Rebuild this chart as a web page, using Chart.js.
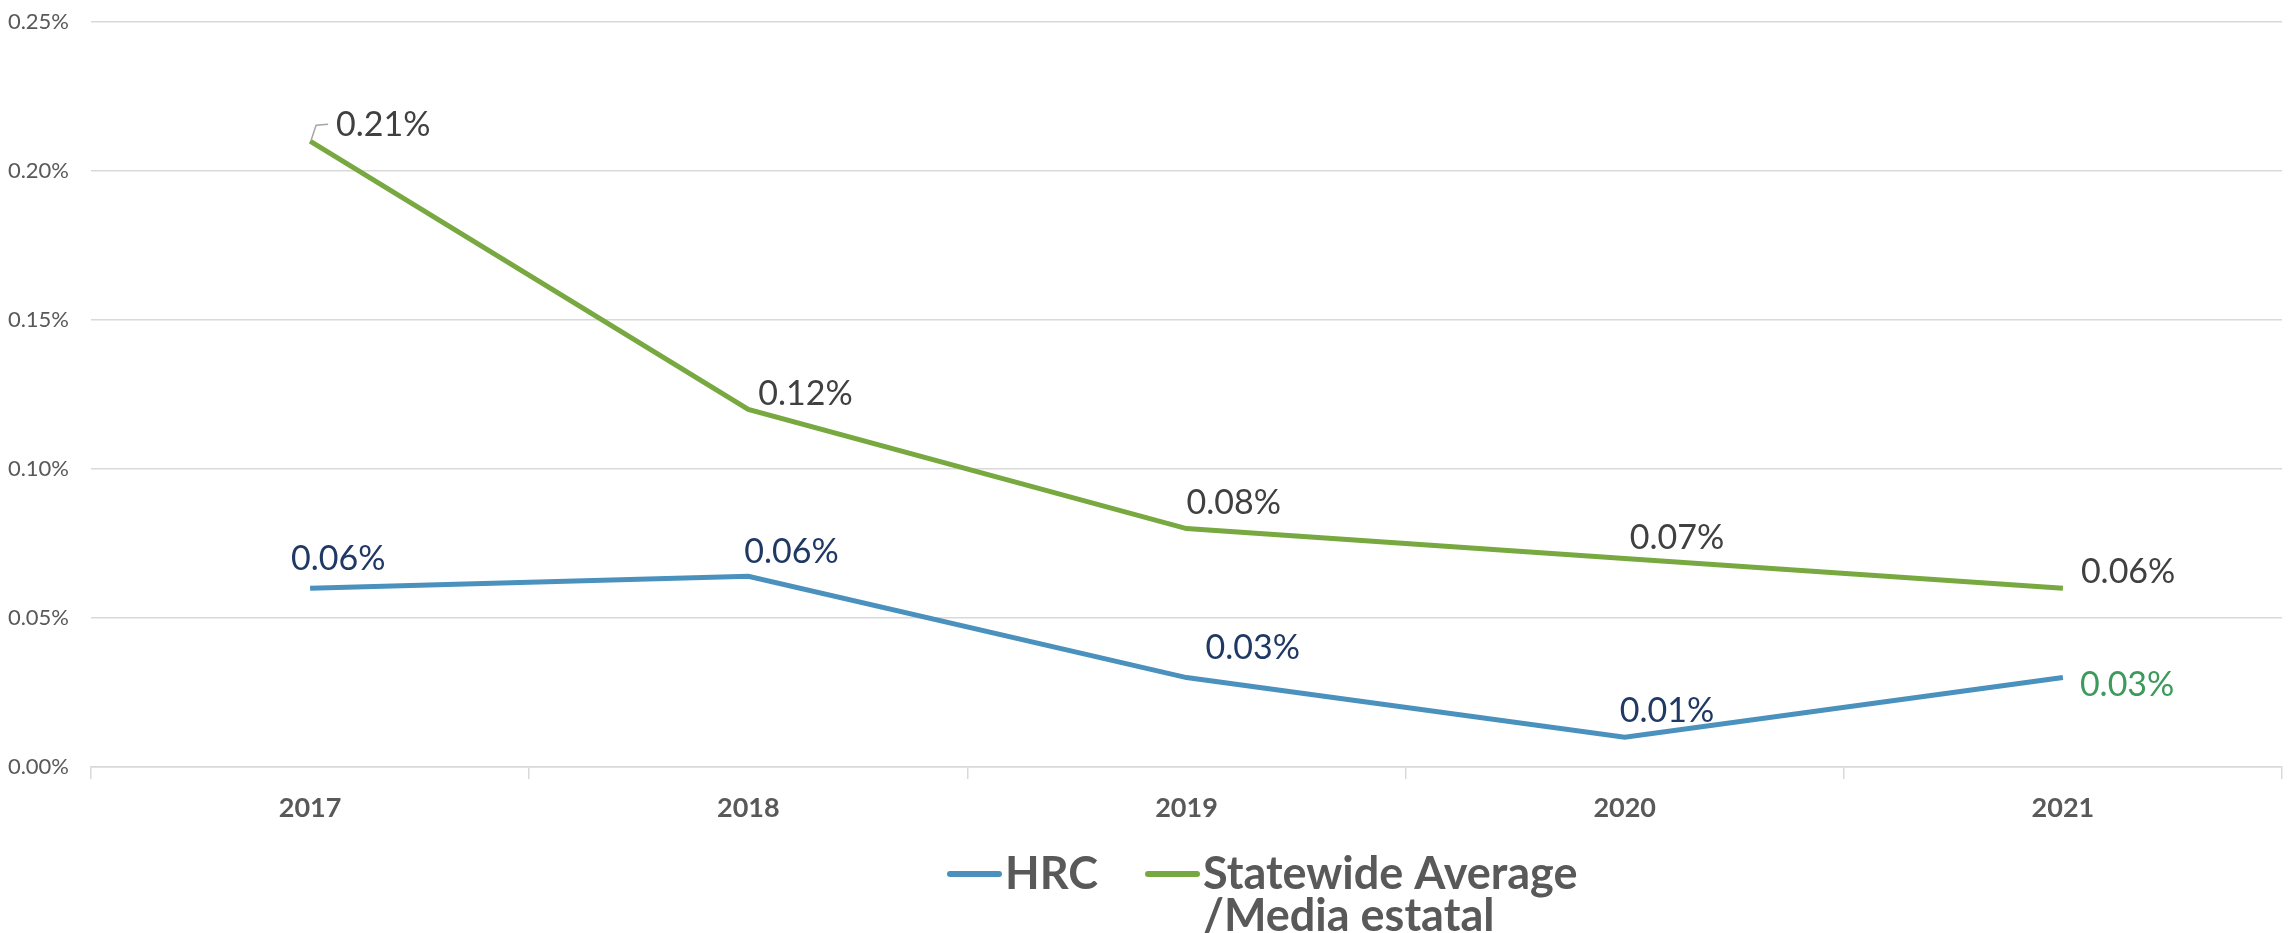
<!DOCTYPE html>
<html>
<head>
<meta charset="utf-8">
<script src="https://cdn.jsdelivr.net/npm/chart.js@4.4.1/dist/chart.umd.min.js"></script>
<style>
  html, body { margin: 0; padding: 0; background: #fff; }
  #wrap { width: 2295px; height: 933px; }
</style>
</head>
<body>
<div id="wrap"><canvas id="chart" width="2295" height="933"></canvas></div>
<script>
"use strict";

// data
const years = ["2017", "2018", "2019", "2020", "2021"];
const hrcValues = [0.060, 0.064, 0.030, 0.010, 0.030];
const stateValues = [0.210, 0.120, 0.080, 0.070, 0.060];
const hrcLabels = ["0.06%", "0.06%", "0.03%", "0.01%", "0.03%"];
const stateLabels = ["0.21%", "0.12%", "0.08%", "0.07%", "0.06%"];
const yTicks = [0, 0.05, 0.10, 0.15, 0.20, 0.25];

const FONT = "Lato, 'Open Sans', sans-serif";
const blue = "#4A91BD";
const green = "#78A840";

// where each value label sits relative to its point (left edge, vertical middle)
const labelOffsets = {
  0: [[-19, -29], [-4, -24], [19, -30], [-5, -26], [17, 7]],
  1: [[26, -16], [10, -15], [0, -26], [5, -20], [18, -16]]
};
const labelColors = {
  0: ["#1F3864", "#1F3864", "#1F3864", "#1F3864", "#3D9A5C"],
  1: ["#404040", "#404040", "#404040", "#404040", "#404040"]
};

const valueLabels = {
  id: "valueLabels",
  afterDatasetsDraw(chart) {
    const ctx = chart.ctx;
    ctx.save();
    ctx.font = "34px " + FONT;
    ctx.textAlign = "left";
    ctx.textBaseline = "middle";
    chart.data.datasets.forEach((ds, i) => {
      const meta = chart.getDatasetMeta(i);
      meta.data.forEach((pt, j) => {
        const off = labelOffsets[i][j];
        ctx.fillStyle = labelColors[i][j];
        ctx.fillText(ds.valueText[j], pt.x + off[0], pt.y + off[1]);
      });
    });
    // leader line for the first statewide label
    const p = chart.getDatasetMeta(1).data[0];
    ctx.strokeStyle = "#A6A6A6";
    ctx.lineWidth = 1.5;
    ctx.beginPath();
    ctx.moveTo(p.x + 1, p.y - 1);
    ctx.lineTo(p.x + 6, p.y - 16);
    ctx.lineTo(p.x + 18, p.y - 17);
    ctx.stroke();
    ctx.restore();
  }
};

const legendBelow = {
  id: "legendBelow",
  afterDraw(chart) {
    const ctx = chart.ctx;
    const items = [
      { x: 947, ds: chart.data.datasets[0] },
      { x: 1145, ds: chart.data.datasets[1] }
    ];
    ctx.save();
    ctx.font = "bold 45px " + FONT;
    ctx.textBaseline = "middle";
    ctx.fillStyle = "#595959";
    items.forEach(it => {
      ctx.strokeStyle = it.ds.borderColor;
      ctx.lineWidth = 6;
      ctx.lineCap = "round";
      ctx.beginPath();
      ctx.moveTo(it.x + 3, 874);
      ctx.lineTo(it.x + 52, 874);
      ctx.stroke();
      it.ds.label.split("\n").forEach((line, k) => {
        ctx.fillText(line, it.x + 58, 874 + k * 42);
      });
    });
    ctx.restore();
  }
};

const ctx = document.getElementById("chart").getContext("2d");
const myChart = new Chart(ctx, {
  type: "line",
  data: {
    labels: years,
    datasets: [
      {
        label: "HRC",
        data: hrcValues,
        valueText: hrcLabels,
        borderColor: blue,
        backgroundColor: blue,
        borderWidth: 5,
        pointRadius: 0,
        tension: 0
      },
      {
        label: "Statewide Average\n/Media estatal",
        data: stateValues,
        valueText: stateLabels,
        borderColor: green,
        backgroundColor: green,
        borderWidth: 5,
        pointRadius: 0,
        tension: 0
      }
    ]
  },
  options: {
    responsive: false,
    animation: false,
    layout: { padding: { top: 22, right: 13, left: 0, bottom: 116 } },
    plugins: {
      legend: { display: false },
      tooltip: { enabled: false }
    },
    scales: {
      x: {
        offset: true,
        grid: {
          offset: true,
          drawOnChartArea: false,
          color: "#D9D9D9",
          lineWidth: 1.5,
          tickLength: 12
        },
        border: { color: "#D9D9D9", width: 1.5 },
        ticks: {
          color: "#595959",
          padding: 13,
          font: { family: FONT, size: 27, weight: "bold" }
        },
        afterFit(scale) {
          scale.height = 50;
          scale.paddingLeft = 0;
          scale.paddingRight = 0;
        }
      },
      y: {
        min: 0,
        max: 0.25,
        afterBuildTicks(scale) { scale.ticks = yTicks.map(v => ({ value: v })); },
        grid: { color: "#D9D9D9", lineWidth: 1.5, drawTicks: false },
        border: { display: false },
        ticks: {
          color: "#595959",
          padding: 22,
          font: { family: FONT, size: 22 },
          callback: v => v.toFixed(2) + "%"
        },
        afterFit(scale) {
          scale.width = 91;
          scale.paddingTop = 0;
          scale.paddingBottom = 0;
        }
      }
    }
  },
  plugins: [valueLabels, legendBelow]
});
</script>
</body>
</html>
